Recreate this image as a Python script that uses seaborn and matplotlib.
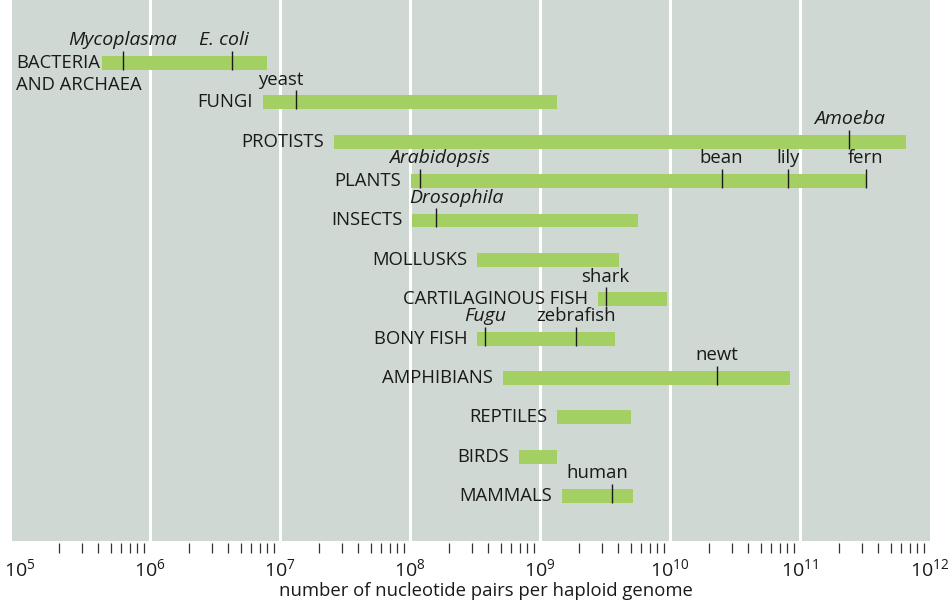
import numpy as np
import pandas as pd
import matplotlib
matplotlib.use("Agg")
import matplotlib.pyplot as plt
import matplotlib.transforms as mtransforms
from matplotlib.ticker import FixedLocator, FixedFormatter, NullFormatter
import seaborn as sns

# Genome size ranges (nucleotide pairs per haploid genome) for each group
groups = ["BACTERIA\nAND ARCHAEA", "FUNGI", "PROTISTS", "PLANTS", "INSECTS", "MOLLUSKS",
          "CARTILAGINOUS FISH", "BONY FISH", "AMPHIBIANS", "REPTILES", "BIRDS", "MAMMALS"]
genome_min = [4.3e5, 7.4e6, 2.6e7, 1.02e8, 1.04e8, 3.3e8, 2.8e9, 3.3e8, 5.2e8, 1.35e9, 6.9e8, 1.48e9]
genome_max = [7.9e6, 1.35e9, 6.5e11, 3.2e11, 5.7e9, 4.05e9, 9.5e9, 3.8e9, 8.4e10, 5.0e9, 1.35e9, 5.2e9]

# Individual organisms marked inside the ranges
species = ["Mycoplasma", "E. coli", "yeast", "Amoeba", "Arabidopsis", "bean", "lily", "fern",
           "Drosophila", "shark", "Fugu", "zebrafish", "newt", "human"]
species_group = [0, 0, 1, 2, 3, 3, 3, 3, 4, 6, 7, 7, 8, 11]
species_size = [6.2e5, 4.3e6, 1.33e7, 2.4e11, 1.2e8, 2.5e10, 8.1e10, 3.2e11,
                1.6e8, 3.2e9, 3.8e8, 1.9e9, 2.3e10, 3.6e9]
species_italic = [True, True, False, True, True, False, False, False,
                  True, False, True, False, False, False]

decades = list(range(5, 13))

ranges = pd.DataFrame({"group": groups, "row": np.arange(len(groups)),
                       "lo": genome_min, "hi": genome_max})
marks = pd.DataFrame({"name": species, "row": species_group, "size": species_size,
                      "italic": species_italic})

sns.set_theme(style="white")
plt.rcParams["font.family"] = ["Open Sans", "DejaVu Sans"]
plt.rcParams["mathtext.fontset"] = "custom"
plt.rcParams["mathtext.rm"] = "Open Sans"
plt.rcParams["mathtext.it"] = "Open Sans:italic"

BAR = "#a4cf63"
BG = "#cfd8d3"
INK = "#1a1a1a"
FS = 13.3

fig = plt.figure(figsize=(9.5, 6.04), dpi=100)
ax = fig.add_axes([12 / 950, 1 - 541 / 604, 918 / 950, 541 / 604])
ax.set_facecolor(BG)
ax.set_xscale("log")
ax.set_xlim(10 ** (5 - 8 / 130), 10 ** 12.001)
ax.set_ylim(12.14, -1.6)

for d in decades[1:-1]:
    ax.axvline(10.0 ** d, color="white", lw=2.2, zorder=1)

bar_h = 0.355
ax.barh(ranges["row"], ranges["hi"] - ranges["lo"], left=ranges["lo"],
        height=bar_h, color=BAR, edgecolor="none", zorder=2)

tick_ext = 0.13
ax.vlines(marks["size"], marks["row"] + bar_h / 2, marks["row"] - bar_h / 2 - tick_ext,
          color=INK, lw=1.0, zorder=3)

# group names to the left of each range
for _, r in ranges.iterrows():
    if "\n" in r["group"]:
        first, second = r["group"].split("\n")
        trans = mtransforms.blended_transform_factory(ax.transAxes, ax.transData)
        ax.text(4 / 918, r["row"], first, transform=trans, ha="left", va="center",
                fontsize=FS, color=INK, zorder=4)
        ax.text(4 / 918, r["row"] + 0.55, second, transform=trans, ha="left", va="center",
                fontsize=FS, color=INK, zorder=4)
    else:
        ax.annotate(r["group"], (r["lo"], r["row"]), xytext=(-7, 0),
                    textcoords="offset points", ha="right", va="center",
                    fontsize=FS, color=INK, zorder=4)

# organism names above their marks
shift = {"E. coli": -6, "yeast": -11, "Arabidopsis": 14, "Drosophila": 14, "human": -11}
for _, m in marks.iterrows():
    ax.annotate(m["name"], (m["size"], m["row"] - bar_h / 2 - tick_ext),
                xytext=(shift.get(m["name"], 0), 4), textcoords="offset points",
                ha="center", va="baseline", fontsize=14 if m["italic"] else FS, color=INK,
                style="italic" if m["italic"] else "normal", zorder=4)

# axis ticks: labelled decades, short marks at 2..9 within each decade
ax.xaxis.set_major_locator(FixedLocator([10.0 ** d for d in decades]))
ax.xaxis.set_major_formatter(FixedFormatter([rf"$10^{{{d}}}$" for d in decades]))
minor = [k * 10.0 ** d for d in decades[:-1] for k in range(2, 10)]
ax.xaxis.set_minor_locator(FixedLocator(minor))
ax.xaxis.set_minor_formatter(NullFormatter())
ax.tick_params(axis="x", which="major", length=0, pad=11, labelsize=14, labelcolor=INK)
ax.tick_params(axis="x", which="minor", length=7.2, width=0.9, color="#333333",
               direction="out", bottom=True)
ax.set_yticks([])
for s in ax.spines.values():
    s.set_visible(False)
ax.spines["bottom"].set_position(("outward", 1.5))

ax.set_xlabel("number of nucleotide pairs per haploid genome", fontsize=FS, color=INK)
ax.xaxis.set_label_coords(0.516, -0.075)

fig.savefig("out.png", dpi=100, facecolor="white")
